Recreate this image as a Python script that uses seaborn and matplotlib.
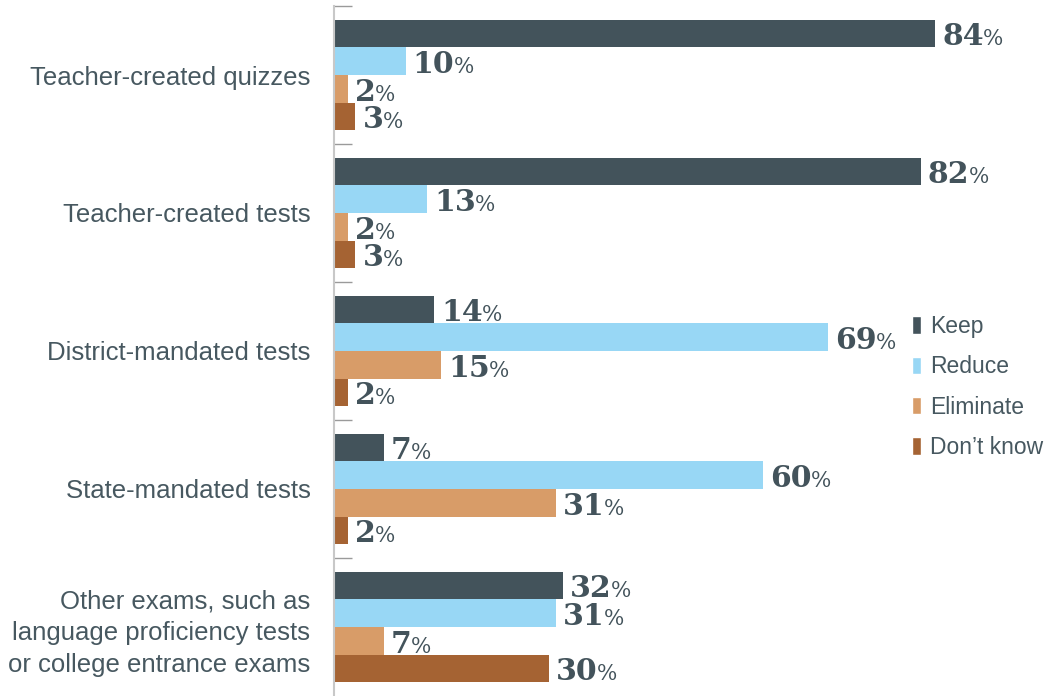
import pandas as pd
import matplotlib
matplotlib.use("Agg")
import matplotlib.pyplot as plt
import seaborn as sns
from matplotlib.patches import Patch

categorias = [
    "Teacher-created quizzes",
    "Teacher-created tests",
    "District-mandated tests",
    "State-mandated tests",
    "Other exams, such as\nlanguage proficiency tests\nor college entrance exams",
]
respostas = ["Keep", "Reduce", "Eliminate", "Don\u2019t know"]
keep = [84, 82, 14, 7, 32]
reduce_ = [10, 13, 69, 60, 31]
eliminate = [2, 2, 15, 31, 7]
dont_know = [3, 3, 2, 2, 30]
cores = ["#43535b", "#98d7f5", "#d89c68", "#a56333"]

cor_texto = "#475860"
cor_valor = "#43535b"

df = pd.DataFrame({
    "categoria": categorias * 4,
    "resposta": [r for r in respostas for _ in categorias],
    "valor": keep + reduce_ + eliminate + dont_know,
})

sns.set_style("white")
plt.rcParams["font.family"] = ["Liberation Sans", "DejaVu Sans"]

fig = plt.figure(figsize=(10.46, 6.96), dpi=100)
ax = fig.add_axes([334 / 1046, 0, 1 - 334 / 1046, 1 - 6 / 696])
sns.barplot(data=df, y="categoria", x="valor", hue="resposta",
            order=categorias, hue_order=respostas, palette=cores,
            orient="h", width=0.8, saturation=1, legend=False,
            linewidth=0, edgecolor="none", ax=ax)

ax.set_xlim(0, 99.5)
ax.set_ylim(4.5, -0.5)
ax.set_xlabel("")
ax.set_ylabel("")
ax.set_xticks([])

for lado in ["top", "right", "bottom"]:
    ax.spines[lado].set_visible(False)
ax.spines["left"].set_color("#c8c8c8")
ax.spines["left"].set_linewidth(1.5)

ax.set_yticks(range(len(categorias)))
ax.set_yticklabels(categorias)
# marcas entre os grupos (a última fica na borda inferior, sem marca)
ax.set_yticks([i - 0.5 for i in range(len(categorias))], minor=True)
ax.tick_params(axis="y", which="both", left=True)
ax.tick_params(axis="y", which="major", length=0, pad=17, labelsize=18.5,
               labelcolor=cor_texto)
ax.tick_params(axis="y", which="minor", direction="in", length=13,
               color="#9a9a9a", width=1)
for rotulo in ax.get_yticklabels():
    rotulo.set_linespacing(1.4)

# rótulos de valor: número em negrito + % menor
fig.canvas.draw()
renderer = fig.canvas.get_renderer()
for container in ax.containers:
    for barra in container:
        w = barra.get_width()
        yc = barra.get_y() + barra.get_height() / 2
        t = ax.annotate(f"{round(w)}", xy=(w, yc), xytext=(5, -8.5),
                        textcoords="offset points", ha="left", va="baseline",
                        fontsize=21.5, fontweight="bold", family="DejaVu Serif",
                        color=cor_valor)
        bb = t.get_window_extent(renderer)
        largura = bb.width * 72 / fig.dpi
        ax.annotate("%", xy=(w, yc), xytext=(5 + largura - 0.5, -8.5),
                    textcoords="offset points", ha="left", va="baseline",
                    fontsize=15.5, family="DejaVu Serif", color=cor_valor)

handles = [Patch(facecolor=c, label=r) for c, r in zip(cores, respostas)]
leg = fig.legend(handles=handles, loc="center left",
                 bbox_to_anchor=(912 / 1046, 1 - 387 / 696),
                 frameon=False, fontsize=16.5, handlelength=0.38,
                 handleheight=0.8, handletextpad=0.4, labelspacing=0.75,
                 borderpad=0, borderaxespad=0)
for txt in leg.get_texts():
    txt.set_color(cor_texto)

fig.savefig("out.png", dpi=100)
